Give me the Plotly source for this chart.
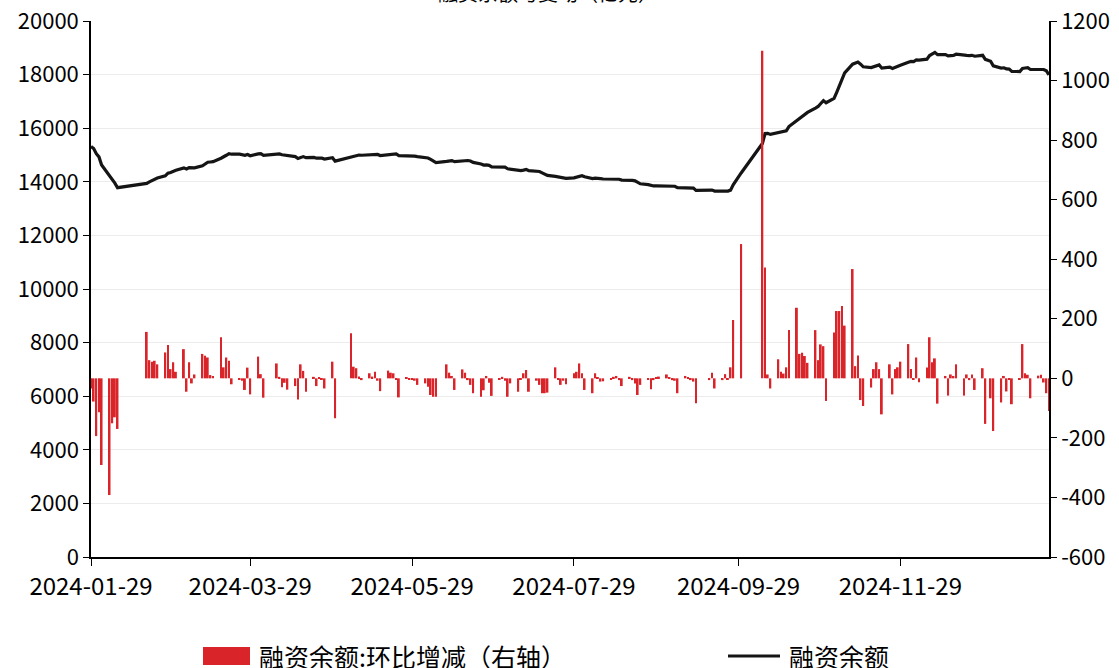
import pandas as pd
import plotly.graph_objects as go

# ---- calendar: trading days (weekday holidays excluded) ----
holidays = ["2024-02-09", "2024-02-12", "2024-02-13", "2024-02-14", "2024-02-15", "2024-02-16",
            "2024-04-04", "2024-04-05", "2024-05-01", "2024-05-02", "2024-05-03", "2024-06-10",
            "2024-09-16", "2024-09-17", "2024-10-01", "2024-10-02", "2024-10-03", "2024-10-04",
            "2024-10-07", "2025-01-01"]
dates = [d.strftime("%Y-%m-%d") for d in pd.bdate_range("2024-01-29", "2025-01-24")
         if d.strftime("%Y-%m-%d") not in holidays]

# ---- 融资余额:环比增减 (right axis, 亿元) ----
fin_change = [
    -34, -78, -194, -114, -291,
    -392, -151, -131, -170,
    156, 61, 56, 59, 47,
    87, 112, 31, 54, 22,
    98, -45, 54, -17, 13,
    82, 76, 70, 11, 8,
    138, 37, 70, 59, -20,
    -5, -8, -39, 36, -54,
    73, 14, -65,
    50, 5, -30, -15, -38,
    -26, -71, 47, 25, -45,
    5, -26, 3, -4, -34,
    56, -134,
    151, 39, 34, 6, -6,
    17, 6, 22, -8, -43,
    26, 19, 17, -5, -64,
    3, -4, -3, -8, -22,
    -17, -28, -56, -62, -62,
    47, 19, 8, -39,
    30, 19, -6, -22, -50,
    -62, -40, 8, -15, -59,
    -3, 5, -8, -62, -17,
    -45, -5, 17, 28, -45,
    -8, -22, -50, -50, -48,
    37, -6, -22, -8, -20,
    17, 22, 50, 17, -39,
    -50, 17, 3, -11, -10,
    -3, 5, 8, -6, -26,
    5, -6, -17, -56, -22,
    -3, -37, -6, 3, 6,
    13, 2, -6, -8, -50,
    8, 3, -6, -11, -84,
    -6, 19, -34,
    -6, 14, -3, 37, 196,
    451,
    1100, 372, 13, -34,
    64, 22, 16, 37, 162,
    237, 82, 86, 75, 52,
    162, 61, 114, 108, -76,
    154, 226, 226, 243, 177,
    367, 41, 77, -73, -93,
    -31, 31, 54, 31, -121,
    47, -54, 31, 37, 56,
    115, 31, -3, 70, -13,
    36, 138, 54, 67, -85,
    8, -58, 13, 8, 47,
    -58, 13, -6, 13, -39,
    34, -153, -67, -177,
    -81, 8, -44, -3, -87,
    -3, 115, 17, 12, -67,
    9, 12, -14, -50, -110,
]

# ---- 融资余额 (left axis, 亿元) ----
fin_balance = [
    15320, 15240, 15050, 14930, 14630,
    14240, 14090, 13950, 13780,
    13940, 14000, 14050, 14100, 14140,
    14220, 14320, 14350, 14400, 14430,
    14520, 14480, 14530, 14510, 14520,
    14600, 14670, 14730, 14740, 14750,
    14880, 14920, 14990, 15050, 15030,
    15030, 15020, 14990, 15020, 14970,
    15040, 15050, 14990,
    15030, 15040, 15010, 15000, 14960,
    14940, 14870, 14910, 14940, 14900,
    14910, 14880, 14890, 14880, 14850,
    14900, 14770,
    14920, 14960, 14990, 15000, 14990,
    15010, 15010, 15030, 15020, 14980,
    15010, 15030, 15050, 15040, 14980,
    14980, 14975, 14970, 14960, 14940,
    14920, 14890, 14840, 14780, 14720,
    14760, 14780, 14790, 14750,
    14780, 14800, 14795, 14775, 14725,
    14665, 14625, 14630, 14615, 14555,
    14550, 14555, 14545, 14485, 14470,
    14425, 14420, 14435, 14460, 14415,
    14405, 14385, 14335, 14285, 14240,
    14200, 14190, 14165, 14155, 14130,
    14145, 14165, 14210, 14225, 14185,
    14120, 14135, 14135, 14120, 14105,
    14100, 14100, 14105, 14095, 14065,
    14065, 14055, 14035, 13975, 13925,
    13895, 13855, 13845, 13845, 13845,
    13855, 13855, 13845, 13835, 13785,
    13790, 13790, 13780, 13765, 13680,
    13670, 13690, 13655,
    13645, 13660, 13655, 13690, 13885,
    14330,
    15430, 15800, 15810, 15770,
    15830, 15850, 15865, 15900, 16060,
    16300, 16380, 16465, 16540, 16590,
    16750, 16810, 16920, 17030, 16950,
    17110, 17340, 17600, 17870, 18060,
    18390, 18430, 18470, 18390, 18290,
    18260, 18290, 18330, 18360, 18240,
    18280, 18230, 18260, 18290, 18350,
    18460, 18490, 18485, 18550, 18540,
    18575, 18710, 18765, 18830, 18745,
    18750, 18700, 18710, 18715, 18760,
    18705, 18715, 18710, 18720, 18685,
    18720, 18570, 18500, 18325,
    18245, 18255, 18210, 18205, 18120,
    18115, 18230, 18245, 18255, 18190,
    18195, 18205, 18190, 18140, 17990,
]

x_tick_vals = ["2024-01-29", "2024-03-29", "2024-05-29", "2024-07-29", "2024-09-29", "2024-11-29"]
x_tick_text = ["2024-01-29", "2024-03-29", "2024-05-29", "2024-07-29", "2024-09-29", "2024-11-29"]
y_left_ticks = [0, 2000, 4000, 6000, 8000, 10000, 12000, 14000, 16000, 18000, 20000]
y_left_text = ["0", "2000", "4000", "6000", "8000", "10000", "12000", "14000", "16000", "18000", "20000"]
y_right_ticks = [-600, -400, -200, 0, 200, 400, 600, 800, 1000, 1200]
y_right_text = ["-600", "-400", "-200", "0", "200", "400", "600", "800", "1000", "1200"]

assert len(dates) == len(fin_change) == len(fin_balance), (len(dates), len(fin_change), len(fin_balance))

BAR_NAME = "融资余额:环比增减（右轴）"
LINE_NAME = "融资余额"
RED = "#D9242A"
BLACK = "#151515"
FONT = "Noto Sans CJK SC"

fig = go.Figure()
fig.add_trace(go.Scatter(x=dates, y=fin_balance, mode="lines", name=LINE_NAME,
                         line=dict(color=BLACK, width=3.2), yaxis="y", showlegend=False))
fig.add_trace(go.Bar(x=dates, y=fin_change, name=BAR_NAME, yaxis="y2",
                     marker=dict(color=RED, line=dict(width=0)), showlegend=False))

W, H = 1119, 668
L, R, T, B = 91, 70, 21, 111
pw, ph = W - L - R, H - T - B


def px(xp):
    return (xp - L) / pw


def py(yp):
    return (H - B - yp) / ph


y_font = dict(family=FONT, size=22, color="#000000")
x_font = dict(family=FONT, size=24, color="#000000")
fig.update_layout(
    width=W, height=H,
    margin=dict(l=L, r=R, t=T, b=B, autoexpand=False),
    paper_bgcolor="white", plot_bgcolor="white",
    font=dict(family=FONT, color="#000000"),
    bargap=0.3,
    showlegend=False,
    xaxis=dict(type="date", range=["2024-01-29", "2025-01-24"],
               tickmode="array", tickvals=x_tick_vals, ticktext=x_tick_text,
               ticks="outside", ticklen=7, tickcolor="#000000", tickwidth=1,
               showline=True, linecolor="#000000", linewidth=1.5,
               showgrid=False, zeroline=False, tickfont=x_font),
    yaxis=dict(range=[0, 20000], tickmode="array", tickvals=y_left_ticks, ticktext=y_left_text,
               ticks="outside", ticklen=6, tickcolor="#000000",
               showline=True, linecolor="#000000", linewidth=1.5,
               showgrid=True, gridcolor="#ececec", gridwidth=1,
               zeroline=False, tickfont=y_font),
    yaxis2=dict(range=[-600, 1200], tickmode="array", tickvals=y_right_ticks, ticktext=y_right_text,
                overlaying="y", side="right",
                ticks="outside", ticklen=6, tickcolor="#000000",
                showline=True, linecolor="#000000", linewidth=1.5,
                showgrid=False, zeroline=False, tickfont=y_font),
)

# title (mostly above the visible area)
fig.add_annotation(text="融资余额与变动（亿元）", xref="paper", yref="paper",
                   x=px(548), y=py(9), xanchor="center", yanchor="bottom",
                   showarrow=False, font=dict(family=FONT, size=20, color="#000000"))

# custom legend
fig.add_shape(type="rect", xref="paper", yref="paper",
              x0=px(203), x1=px(250), y0=py(665), y1=py(647),
              fillcolor=RED, line=dict(width=0))
fig.add_annotation(text=BAR_NAME, xref="paper", yref="paper", x=px(257), y=py(656),
                   xanchor="left", yanchor="middle", showarrow=False,
                   font=dict(family=FONT, size=25, color="#000000"))
fig.add_shape(type="line", xref="paper", yref="paper",
              x0=px(728), x1=px(780), y0=py(656), y1=py(656),
              line=dict(color=BLACK, width=3))
fig.add_annotation(text=LINE_NAME, xref="paper", yref="paper", x=px(787), y=py(656),
                   xanchor="left", yanchor="middle", showarrow=False,
                   font=dict(family=FONT, size=25, color="#000000"))

fig.write_html("out.html", config={"displayModeBar": False},
               post_script="document.body.style.margin='0';document.body.style.overflow='hidden';")
